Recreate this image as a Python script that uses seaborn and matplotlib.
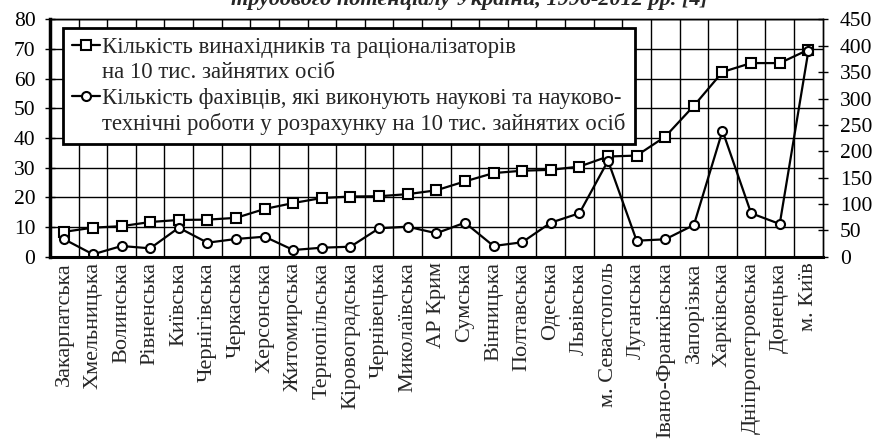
import numpy as np
import pandas as pd
import matplotlib
matplotlib.use('Agg')
import matplotlib.pyplot as plt
from matplotlib.lines import Line2D
import seaborn as sns

# області України
regions = ['Закарпатська', 'Хмельницька', 'Волинська', 'Рівненська', 'Київська',
           'Чернігівська', 'Черкаська', 'Херсонська', 'Житомирська', 'Тернопільська',
           'Кіровоградська', 'Чернівецька', 'Миколаївська', 'АР Крим', 'Сумська',
           'Вінницька', 'Полтавська', 'Одеська', 'Львівська', 'м. Севастополь',
           'Луганська', 'Івано-Франківська', 'Запорізька', 'Харківська',
           'Дніпропетровська', 'Донецька', 'м. Київ']

# винахідники та раціоналізатори на 10 тис. зайнятих (ліва вісь)
inventors = [8.4, 9.8, 10.3, 11.7, 12.4, 12.5, 13.1, 16.1, 18.1, 19.8,
             20.3, 20.4, 21.1, 22.4, 25.4, 28.2, 29.0, 29.3, 30.4, 33.8,
             34.1, 40.5, 50.9, 62.3, 65.3, 65.3, 69.8]

# фахівці, що виконують наукові роботи, на 10 тис. зайнятих (права вісь)
scientists = [33, 4.5, 20.3, 15.9, 55, 26.6, 33.6, 38, 12.7, 17.1,
              19, 54, 57, 44.5, 64.6, 20.3, 27.4, 64.6, 82.5, 182,
              30.4, 33, 60.2, 239, 82.5, 62.1, 390]

left_ticks = list(range(0, 81, 10))
right_ticks = list(range(0, 451, 50))

label1 = ['Кількість винахідників та раціоналізаторів', 'на 10 тис. зайнятих осіб']
label2 = ['Кількість фахівців, які виконують наукові та науково-',
          'технічні роботи у розрахунку на 10 тис. зайнятих осіб']
title = 'трудового потенціалу України, 1996-2012 рр. [4]'

df = pd.DataFrame({'region': regions, 'inventors': inventors, 'scientists': scientists})

sns.set_style('white')
plt.rcParams['font.family'] = ['Liberation Serif', 'DejaVu Serif']
plt.rcParams['font.size'] = 15.5

fig = plt.figure(figsize=(8.76, 4.42), dpi=100)
ax = fig.add_axes([0.0571, 0.4192, 0.882, 0.5367])
ax2 = ax.twinx()

common = dict(color='black', linewidth=1.6, markersize=6.5, markeredgewidth=1.5,
              markerfacecolor='white', markeredgecolor='black', sort=False)
sns.lineplot(data=df, x='region', y='inventors', marker='s', ax=ax, **common)
sns.lineplot(data=df, x='region', y='scientists', marker='o', ax=ax2, **common)

ax.set_xlim(-0.5, len(regions) - 0.5)
ax.set_ylim(0, 80)
ax2.set_ylim(0, 450)
ax.set_yticks(left_ticks)
ax2.set_yticks(right_ticks)
ax.set_xlabel('')
ax.set_ylabel('')
ax2.set_ylabel('')

ax.set_xticks(range(len(regions)))
ax.set_xticklabels(regions, rotation=90, fontsize=16)
ax.set_xticks(np.arange(0.5, len(regions) - 1, 1), minor=True)
ax.tick_params(axis='x', which='both', length=0, pad=4)
ax.tick_params(axis='y', direction='inout', length=7, width=1, pad=7, colors='black',
               labelsize=15.5)
ax2.tick_params(axis='y', direction='inout', length=7, width=1, pad=9, colors='black',
                labelsize=15.5)

ax.grid(True, which='minor', axis='x', color='black', linewidth=1)
ax.grid(True, which='major', axis='y', color='black', linewidth=1)
ax.grid(False, which='major', axis='x')

for a in (ax, ax2):
    for s in a.spines.values():
        s.set_color('black')
        s.set_linewidth(1)
ax2.spines['left'].set_linewidth(2.5)
ax2.spines['bottom'].set_linewidth(2.2)

# легенда: перший рядок з маркером, другий без
h1 = Line2D([], [], color='black', lw=1.6, marker='s', ms=6.5, mew=1.5, mfc='white')
h2 = Line2D([], [], color='black', lw=1.6, marker='o', ms=6.5, mew=1.5, mfc='white')
blank = Line2D([], [], linestyle='none')
leg = ax2.legend([h1, blank, h2, blank], [label1[0], label1[1], label2[0], label2[1]],
                 loc='upper left', bbox_to_anchor=(0.017, 0.964), fontsize=16.4,
                 handlelength=1.22, handletextpad=0.1, labelspacing=0.19,
                 borderpad=0.4, borderaxespad=0, fancybox=False, framealpha=1,
                 edgecolor='black', frameon=True)
leg.get_frame().set_linewidth(2)

fig.text(0.536, 0.989, title, ha='center', va='baseline', fontsize=16,
         fontweight='bold', fontstyle='italic')

fig.savefig('out.png', dpi=100)
